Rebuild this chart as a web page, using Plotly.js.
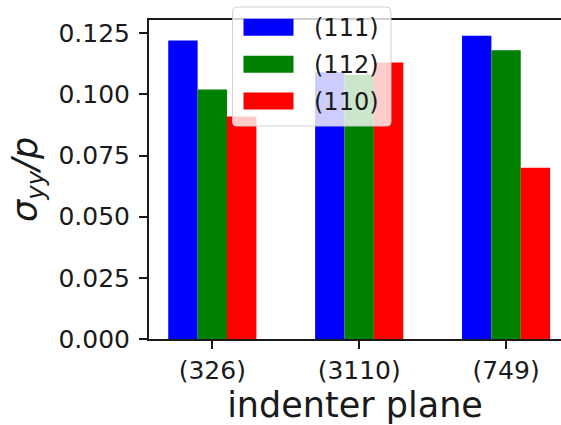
<!DOCTYPE html>
<html>
<head>
<meta charset="utf-8">
<script src="https://cdn.plot.ly/plotly-3.0.1.min.js"></script>
<style>
  html, body { margin: 0; padding: 0; background: #ffffff; }
  #chart { width: 561px; height: 425px; }
</style>
</head>
<body>
<div id="chart"></div>
<script>
// Indenter planes along the x axis
const planes = ['(326)', '(3110)', '(749)'];

// Normalised stress sigma_yy / p for each slip-plane family
const seriesNames = ['(111)', '(112)', '(110)'];
const vals111 = [0.122, 0.109, 0.124];
const vals112 = [0.102, 0.108, 0.118];
const vals110 = [0.091, 0.113, 0.070];

const seriesColors = ['#0000ff', '#008000', '#ff0000'];
const seriesValues = [vals111, vals112, vals110];

const yTitle = '<i>σ</i><sub><i>yy</i></sub><i>/p</i>';
const xTitle = 'indenter plane';

const W = 561, H = 425;
const M = { l: 149, r: 0, t: 20, b: 86 };
const plotW = W - M.l - M.r;
const plotH = H - M.t - M.b;

// pixel -> paper coordinate helpers for the hand-built legend and y title
const px = x => (x - M.l) / plotW;
const py = y => (H - M.b - y) / plotH;

const font = 'DejaVu Sans, sans-serif';
const ink = '#1a1a1a';

const traces = seriesNames.map((name, i) => ({
  type: 'bar',
  name: name,
  x: planes,
  y: seriesValues[i],
  marker: { color: seriesColors[i], line: { width: 0 } },
  showlegend: false,
  hoverinfo: 'x+y+name'
}));

// Legend frame with rounded corners
function roundedRect(x0, y0, x1, y1, r) {
  const X = v => px(v), Y = v => py(v);
  return 'M' + X(x0 + r) + ',' + Y(y0) +
    ' L' + X(x1 - r) + ',' + Y(y0) +
    ' Q' + X(x1) + ',' + Y(y0) + ' ' + X(x1) + ',' + Y(y0 + r) +
    ' L' + X(x1) + ',' + Y(y1 - r) +
    ' Q' + X(x1) + ',' + Y(y1) + ' ' + X(x1 - r) + ',' + Y(y1) +
    ' L' + X(x0 + r) + ',' + Y(y1) +
    ' Q' + X(x0) + ',' + Y(y1) + ' ' + X(x0) + ',' + Y(y1 - r) +
    ' L' + X(x0) + ',' + Y(y0 + r) +
    ' Q' + X(x0) + ',' + Y(y0) + ' ' + X(x0 + r) + ',' + Y(y0) + ' Z';
}

const shapes = [{
  type: 'path', xref: 'paper', yref: 'paper', layer: 'above',
  path: roundedRect(232.5, 7, 391, 126, 4),
  fillcolor: 'rgba(255,255,255,0.8)',
  line: { color: 'rgba(204,204,204,0.9)', width: 1 }
}];
const annotations = [];
const rowCenters = [27.2, 64.3, 101];
seriesNames.forEach((name, i) => {
  const cy = rowCenters[i];
  shapes.push({
    type: 'rect', xref: 'paper', yref: 'paper', layer: 'above',
    x0: px(243.5), x1: px(293.5), y0: py(cy - 8.5), y1: py(cy + 8.5),
    fillcolor: seriesColors[i], line: { width: 0 }
  });
  annotations.push({
    xref: 'paper', yref: 'paper', x: px(312), y: py(cy + 1),
    xanchor: 'left', yanchor: 'middle', showarrow: false,
    text: name, font: { family: font, size: 24, color: ink }
  });
});

// Rotated y-axis label placed left of the tick labels
annotations.push({
  xref: 'paper', yref: 'paper', x: px(28), y: py(180),
  xanchor: 'center', yanchor: 'middle', showarrow: false, textangle: -90,
  text: yTitle, font: { family: font, size: 35, color: ink }
});

const layout = {
  width: W, height: H,
  margin: M,
  paper_bgcolor: '#ffffff', plot_bgcolor: '#ffffff',
  barmode: 'group', bargap: 0.4, bargroupgap: 0,
  showlegend: false,
  font: { family: font, color: ink },
  xaxis: {
    type: 'category',
    range: [-0.431, 2.374],
    showline: true, linecolor: ink, linewidth: 2, mirror: true,
    ticks: 'outside', ticklen: 8, tickwidth: 2, tickcolor: ink,
    tickfont: { family: font, size: 25, color: ink },
    showgrid: false, zeroline: false,
    title: { text: xTitle, font: { family: font, size: 35, color: ink }, standoff: 14 }
  },
  yaxis: {
    range: [0, 0.1304],
    tickvals: [0, 0.025, 0.05, 0.075, 0.1, 0.125],
    tickformat: '.3f',
    showline: true, linecolor: ink, linewidth: 2,
    ticks: 'outside', ticklen: 8, tickwidth: 2, tickcolor: ink,
    ticklabelstandoff: 4,
    tickfont: { family: font, size: 25, color: ink },
    showgrid: false, zeroline: false
  },
  shapes: shapes,
  annotations: annotations
};

Plotly.newPlot('chart', traces, layout, { displayModeBar: false, staticPlot: true });
</script>
</body>
</html>
